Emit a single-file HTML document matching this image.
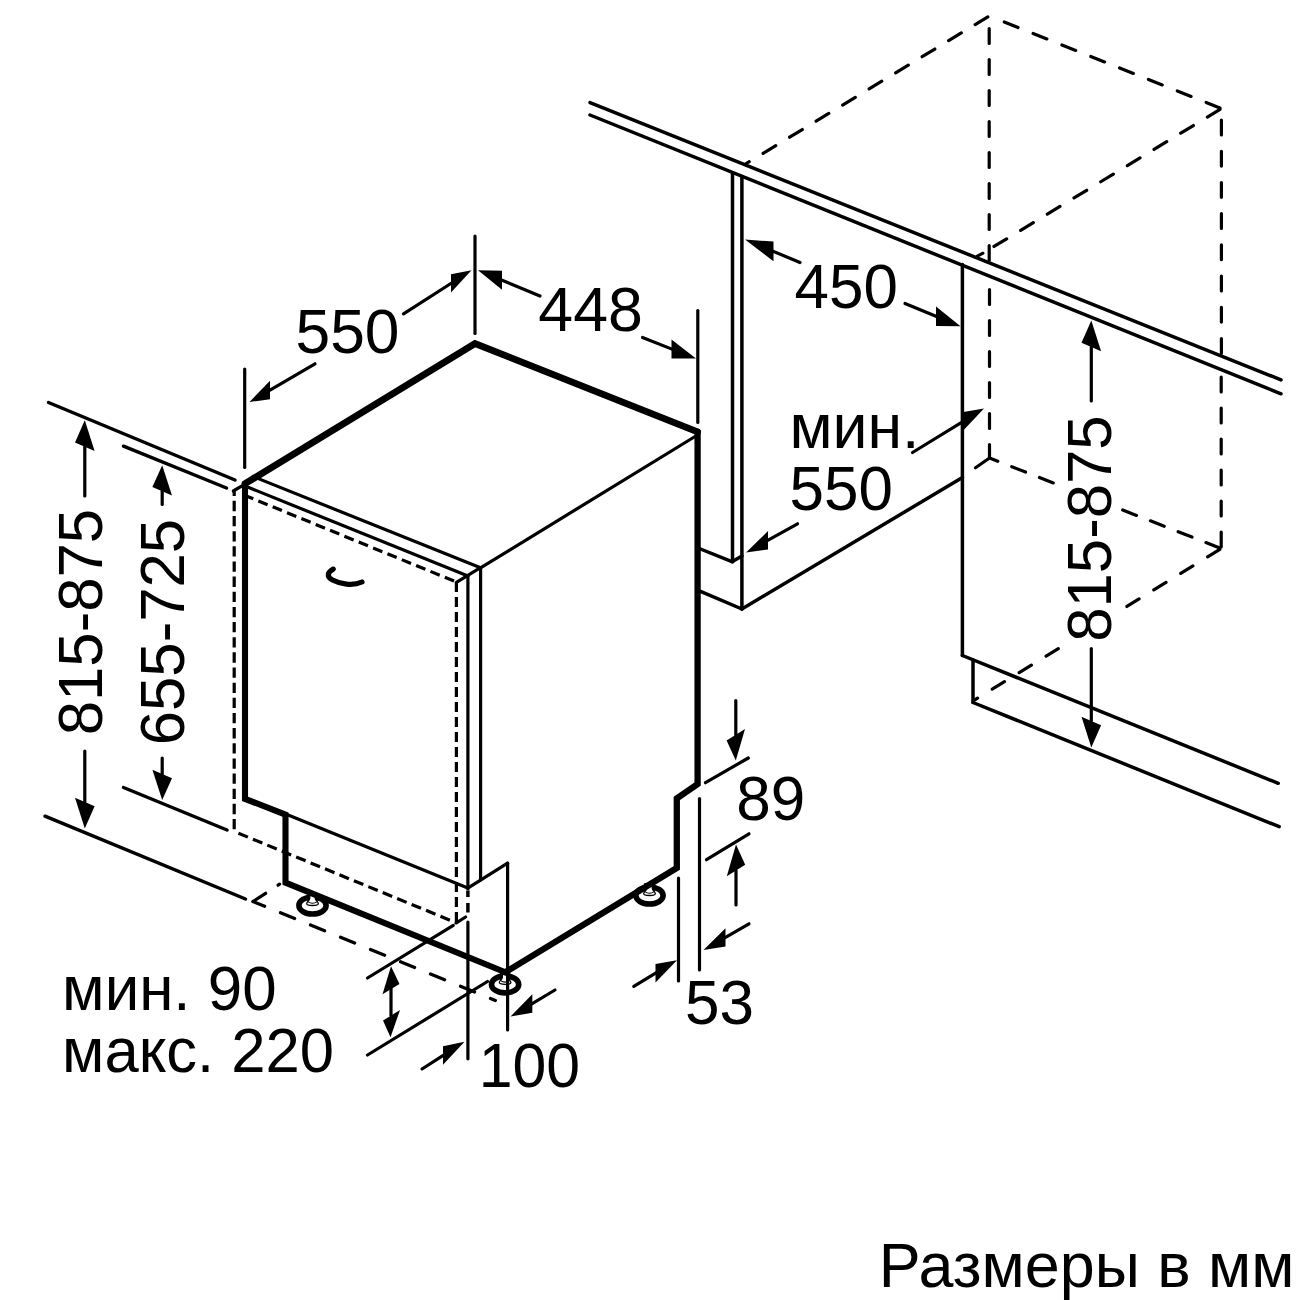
<!DOCTYPE html>
<html lang="ru">
<head>
<meta charset="utf-8">
<title>Размеры в мм</title>
<style>
html,body{margin:0;padding:0;background:#fff;}
body{width:1300px;height:1300px;overflow:hidden;}
svg{display:block;}
svg line, svg path, svg ellipse{stroke:#000;}
svg text{font-family:"Liberation Sans",sans-serif;fill:#000;}
</style>
</head>
<body>
<svg width="1300" height="1300" viewBox="0 0 1300 1300">
<rect x="0" y="0" width="1300" height="1300" fill="#fff" stroke="none"/>
<line x1="590" y1="102.6" x2="1281" y2="379.9" stroke-width="3.5" stroke-linecap="round"/>
<line x1="590" y1="115" x2="1281" y2="393.8" stroke-width="3.5" stroke-linecap="round"/>
<line x1="732.5" y1="173" x2="732.5" y2="561.8" stroke-width="3.5" stroke-linecap="round"/>
<line x1="741.9" y1="176.5" x2="741.9" y2="609" stroke-width="3.5" stroke-linecap="round"/>
<line x1="732.5" y1="561.8" x2="700.5" y2="549" stroke-width="3.5" stroke-linecap="round"/>
<line x1="732.5" y1="561.5" x2="741.9" y2="556" stroke-width="3.5" stroke-linecap="round"/>
<line x1="741.9" y1="609" x2="700.5" y2="591.3" stroke-width="3.5" stroke-linecap="round"/>
<line x1="741.9" y1="609" x2="962.4" y2="477.5" stroke-width="3.5" stroke-linecap="round"/>
<line x1="962.4" y1="264.5" x2="962.4" y2="655.5" stroke-width="3.5" stroke-linecap="round"/>
<line x1="962.4" y1="655.5" x2="1278.2" y2="783.3" stroke-width="3.5" stroke-linecap="round"/>
<line x1="973" y1="660" x2="973" y2="702.5" stroke-width="3.5" stroke-linecap="round"/>
<line x1="973" y1="702.5" x2="1279.2" y2="826.7" stroke-width="3.5" stroke-linecap="round"/>
<line x1="745.5" y1="164" x2="989.2" y2="16" stroke-width="3.2" stroke-dasharray="14.8 16.21" stroke-dashoffset="10.4" stroke-linecap="round"/>
<line x1="989.2" y1="16" x2="1221.4" y2="108.5" stroke-width="3.2" stroke-dasharray="14.8 16.25" stroke-dashoffset="14.85" stroke-linecap="round"/>
<line x1="1221.4" y1="108.5" x2="989.2" y2="249.4" stroke-width="3.2" stroke-dasharray="14.8 16.4" stroke-dashoffset="29.6" stroke-linecap="round"/>
<line x1="977.3" y1="256.2" x2="983" y2="253.2" stroke-width="3" stroke-linecap="round"/>
<line x1="989.2" y1="16" x2="989.2" y2="262" stroke-width="3.2" stroke-dasharray="14.8 16.2" stroke-dashoffset="18.4" stroke-linecap="round"/>
<line x1="989.5" y1="458" x2="989.5" y2="277" stroke-width="3.2" stroke-dasharray="14.8 16.2" stroke-dashoffset="1.4" stroke-linecap="round"/>
<line x1="1221.4" y1="108.5" x2="1221.4" y2="356" stroke-width="3.2" stroke-dasharray="14.8 16.4" stroke-dashoffset="19.6" stroke-linecap="round"/>
<line x1="1221.2" y1="548.5" x2="1221.2" y2="370" stroke-width="3.2" stroke-dasharray="14.8 16.2" stroke-dashoffset="29.4" stroke-linecap="round"/>
<line x1="989.5" y1="458" x2="1221.2" y2="548.5" stroke-width="3.2" stroke-dasharray="14.8 14.98" stroke-dashoffset="5.9" stroke-linecap="round"/>
<line x1="989.5" y1="458" x2="975.5" y2="467.8" stroke-width="3.2" stroke-linecap="round"/>
<line x1="1221.2" y1="548.5" x2="973.3" y2="700.8" stroke-width="3.2" stroke-dasharray="14.3 17.3" stroke-dashoffset="30" stroke-linecap="round"/>
<ellipse cx="312.5" cy="905.5" rx="13.6" ry="8.5" fill="#fff" stroke-width="5.6"/>
<rect x="307.3" y="893" width="10.4" height="8.5" fill="#000" stroke="none"/>
<path d="M309.9 895 L309.7 898.5 C309.5 901 306.7 901.5 306.7 903.7 C306.7 906.1 318.3 906.1 318.3 903.7 C318.3 901.5 315.5 901 315.3 898.5 L315.1 895 Z" fill="#fff" stroke-width="1.3"/>
<path d="M308.3 901.9 C310.5 903.7 314.5 903.7 316.7 901.9" fill="none" stroke-width="1.1"/>
<ellipse cx="505.1" cy="984.4" rx="13.6" ry="8.5" fill="#fff" stroke-width="5.6"/>
<rect x="499.9" y="971.9" width="10.4" height="8.5" fill="#000" stroke="none"/>
<path d="M502.5 973.9 L502.3 977.4 C502.1 979.9 499.3 980.4 499.3 982.6 C499.3 985 510.9 985 510.9 982.6 C510.9 980.4 508.1 979.9 507.9 977.4 L507.7 973.9 Z" fill="#fff" stroke-width="1.3"/>
<path d="M500.9 980.8 C503.1 982.6 507.1 982.6 509.3 980.8" fill="none" stroke-width="1.1"/>
<ellipse cx="649.5" cy="895.5" rx="13.6" ry="8.5" fill="#fff" stroke-width="5.6"/>
<rect x="644.3" y="883" width="10.4" height="8.5" fill="#000" stroke="none"/>
<path d="M646.9 885 L646.7 888.5 C646.5 891 643.7 891.5 643.7 893.7 C643.7 896.1 655.3 896.1 655.3 893.7 C655.3 891.5 652.5 891 652.3 888.5 L652.1 885 Z" fill="#fff" stroke-width="1.3"/>
<path d="M645.3 891.9 C647.5 893.7 651.5 893.7 653.7 891.9" fill="none" stroke-width="1.1"/>
<path d="M245 483.7 L475 343.5 L697.6 431.8" fill="none" stroke-width="6.8" stroke-linejoin="miter" stroke-linecap="round"/>
<path d="M697.6 431.8 L697.6 784 L676.8 798.5 L676.8 868 L505.3 972.3" fill="none" stroke-width="6.3" stroke-linejoin="miter" stroke-linecap="round"/>
<path d="M505.3 972.3 L285.5 882.6 L285.5 814.7 L245 798.8 L245 483.7" fill="none" stroke-width="6.1" stroke-linejoin="miter" stroke-linecap="round"/>
<line x1="253" y1="476.5" x2="480.5" y2="567.7" stroke-width="3.2" stroke-linecap="round"/>
<line x1="247" y1="486.8" x2="468" y2="576" stroke-width="3.2" stroke-linecap="round"/>
<line x1="247.5" y1="496.5" x2="456.4" y2="582" stroke-width="3.2" stroke-dasharray="10 5.5" stroke-dashoffset="3.8"/>
<line x1="480.5" y1="567.7" x2="456.4" y2="582.3" stroke-width="3.2" stroke-linecap="round"/>
<line x1="480.5" y1="567.9" x2="697.5" y2="435" stroke-width="3.2" stroke-linecap="round"/>
<line x1="480.6" y1="567.5" x2="480.6" y2="880" stroke-width="3.2" stroke-linecap="round"/>
<line x1="467.9" y1="575.5" x2="467.9" y2="889" stroke-width="3.2" stroke-linecap="round"/>
<line x1="467.9" y1="890.5" x2="467.9" y2="897" stroke-width="3.5"/>
<line x1="467.9" y1="903" x2="467.9" y2="912.5" stroke-width="3.5"/>
<line x1="467.9" y1="922" x2="467.9" y2="1058.8" stroke-width="3.2" stroke-linecap="round"/>
<line x1="456.4" y1="582" x2="456.4" y2="922.7" stroke-width="3.2" stroke-dasharray="10 5"/>
<line x1="234.2" y1="490.8" x2="234.2" y2="831.5" stroke-width="3.2" stroke-dasharray="10.3 4.85" stroke-dashoffset="5.1"/>
<line x1="233.3" y1="491" x2="242" y2="485.9" stroke-width="3.2" stroke-linecap="round"/>
<line x1="234.2" y1="831.5" x2="456.3" y2="922.8" stroke-width="3.2" stroke-dasharray="10.2 5.4" stroke-dashoffset="11"/>
<line x1="456.3" y1="922.8" x2="465.6" y2="917" stroke-width="3.2" stroke-linecap="round"/>
<line x1="286.3" y1="814.2" x2="467.8" y2="888" stroke-width="3.2" stroke-linecap="round"/>
<line x1="467.8" y1="888.2" x2="507.6" y2="863.2" stroke-width="3.2" stroke-linecap="round"/>
<line x1="507.6" y1="863.2" x2="507.6" y2="1030" stroke-width="3.2" stroke-linecap="round"/>
<path d="M333.2 569.1 C327.3 572.3 326.3 576.6 332.5 580 C340 584 352.5 586.3 362 582" fill="none" stroke-width="5.2" stroke-linecap="round"/>
<line x1="48.5" y1="402.5" x2="235" y2="480" stroke-width="3.5" stroke-linecap="round"/>
<line x1="123.5" y1="446.2" x2="226.5" y2="488" stroke-width="3.5" stroke-linecap="round"/>
<line x1="45" y1="816.2" x2="245.5" y2="899" stroke-width="3.5" stroke-linecap="round"/>
<line x1="253" y1="901.5" x2="495.4" y2="1000.5" stroke-width="3.2" stroke-dasharray="15.3 17.1" stroke-dashoffset="2.7" stroke-linecap="round"/>
<line x1="123.5" y1="787.5" x2="227" y2="830" stroke-width="3.5" stroke-linecap="round"/>
<line x1="265.6" y1="893.3" x2="253" y2="901.5" stroke-width="3.2" stroke-linecap="round"/>
<line x1="278" y1="885.2" x2="279.6" y2="884.2" stroke-width="3.2" stroke-linecap="round"/>
<line x1="84.8" y1="496" x2="84.8" y2="446.7" stroke-width="3.2" stroke-linecap="round"/>
<polygon points="84.8,420.2 75,442.39 94.6,451.01" fill="#000" stroke="none"/>
<line x1="84.8" y1="751" x2="84.8" y2="802" stroke-width="3.2" stroke-linecap="round"/>
<polygon points="84.8,828.5 75,797.69 94.6,806.31" fill="#000" stroke="none"/>
<line x1="162.2" y1="504.5" x2="162.2" y2="491.2" stroke-width="3.2" stroke-linecap="round"/>
<polygon points="162.2,465.2 152.4,486.89 172,495.51" fill="#000" stroke="none"/>
<line x1="162.2" y1="758" x2="162.2" y2="774" stroke-width="3.2" stroke-linecap="round"/>
<polygon points="162.2,800 152.4,769.69 172,778.31" fill="#000" stroke="none"/>
<text x="102.3" y="735.3" font-size="63.5" text-anchor="start" transform="rotate(-90 102.3 735.3)" textLength="226.5" lengthAdjust="spacingAndGlyphs">815-875</text>
<text x="183.8" y="745.3" font-size="63.5" text-anchor="start" transform="rotate(-90 183.8 745.3)" textLength="226.5" lengthAdjust="spacingAndGlyphs">655-725</text>
<line x1="475" y1="236" x2="475" y2="333.5" stroke-width="3.2" stroke-linecap="round"/>
<line x1="244.7" y1="369" x2="244.7" y2="467.5" stroke-width="3.2" stroke-linecap="round"/>
<line x1="697.8" y1="310.5" x2="697.8" y2="422.5" stroke-width="3.2" stroke-linecap="round"/>
<line x1="403.5" y1="313.8" x2="454" y2="281.49" stroke-width="3.2" stroke-linecap="round"/>
<polygon points="471.5,270.3 451,274.21 451,292.61" fill="#000" stroke="none"/>
<line x1="315" y1="363.8" x2="267" y2="391.79" stroke-width="3.2" stroke-linecap="round"/>
<polygon points="249.5,402 270,380.84 270,399.24" fill="#000" stroke="none"/>
<line x1="540" y1="296" x2="499" y2="279" stroke-width="3.2" stroke-linecap="round"/>
<polygon points="478,270.3 502,270.85 502,289.65" fill="#000" stroke="none"/>
<line x1="642.5" y1="337.5" x2="674.5" y2="350.12" stroke-width="3.2" stroke-linecap="round"/>
<polygon points="696,358.6 671.5,339.44 671.5,358.44" fill="#000" stroke="none"/>
<text x="295.5" y="353" font-size="63.5" text-anchor="start" textLength="104" lengthAdjust="spacingAndGlyphs">550</text>
<text x="538.3" y="331" font-size="63.5" text-anchor="start" textLength="104.5" lengthAdjust="spacingAndGlyphs">448</text>
<line x1="800" y1="262.5" x2="770.5" y2="250.16" stroke-width="3.2" stroke-linecap="round"/>
<polygon points="745,239.5 773.5,241.62 773.5,261.22" fill="#000" stroke="none"/>
<line x1="905" y1="303.5" x2="939" y2="317.47" stroke-width="3.2" stroke-linecap="round"/>
<polygon points="960.5,326.3 936,306.54 936,325.94" fill="#000" stroke="none"/>
<text x="794.5" y="307.5" font-size="63.5" text-anchor="start" textLength="103.4" lengthAdjust="spacingAndGlyphs">450</text>
<line x1="912.5" y1="452.5" x2="966.5" y2="419.27" stroke-width="3.2" stroke-linecap="round"/>
<polygon points="984,408.5 963.5,411.92 963.5,430.32" fill="#000" stroke="none"/>
<line x1="797.5" y1="523.8" x2="765" y2="541.91" stroke-width="3.2" stroke-linecap="round"/>
<polygon points="746,552.5 768,531.04 768,549.44" fill="#000" stroke="none"/>
<text x="789.5" y="447.5" font-size="63.5" text-anchor="start" textLength="130" lengthAdjust="spacingAndGlyphs">мин.</text>
<text x="789.5" y="510" font-size="63.5" text-anchor="start" textLength="103.4" lengthAdjust="spacingAndGlyphs">550</text>
<rect x="1059" y="409" width="62" height="238" fill="#fff" stroke="none"/>
<line x1="1091.3" y1="401" x2="1091.3" y2="347" stroke-width="3.2" stroke-linecap="round"/>
<polygon points="1091.3,320.5 1081.5,342.69 1101.1,351.31" fill="#000" stroke="none"/>
<line x1="1091.3" y1="648.5" x2="1091.3" y2="721" stroke-width="3.2" stroke-linecap="round"/>
<polygon points="1091.3,747.5 1081.5,716.69 1101.1,725.31" fill="#000" stroke="none"/>
<text x="1110.8" y="641.8" font-size="63.5" text-anchor="start" transform="rotate(-90 1110.8 641.8)" textLength="226.5" lengthAdjust="spacingAndGlyphs">815-875</text>
<line x1="699.5" y1="798.5" x2="699.5" y2="970" stroke-width="3.2" stroke-linecap="round"/>
<line x1="678.5" y1="878" x2="678.5" y2="981" stroke-width="3.2" stroke-linecap="round"/>
<line x1="705.5" y1="782.7" x2="748.3" y2="758" stroke-width="3.2" stroke-linecap="round"/>
<line x1="706.5" y1="859.7" x2="749" y2="833.8" stroke-width="3.2" stroke-linecap="round"/>
<line x1="735.8" y1="700.5" x2="735.8" y2="734.8" stroke-width="3.2" stroke-linecap="round"/>
<polygon points="735.8,760.4 726.6,740.5 745,729.1" fill="#000" stroke="none"/>
<line x1="736" y1="905" x2="736" y2="870.5" stroke-width="3.2" stroke-linecap="round"/>
<polygon points="736,844.5 726.8,876.2 745.2,864.8" fill="#000" stroke="none"/>
<line x1="749" y1="923.8" x2="722.5" y2="939.06" stroke-width="3.2" stroke-linecap="round"/>
<polygon points="703.5,950 725.5,928.13 725.5,946.53" fill="#000" stroke="none"/>
<line x1="633.8" y1="986.3" x2="658.5" y2="971.43" stroke-width="3.2" stroke-linecap="round"/>
<polygon points="677,960.3 655.5,964.04 655.5,982.44" fill="#000" stroke="none"/>
<text x="736.3" y="820" font-size="63.5" text-anchor="start" textLength="69" lengthAdjust="spacingAndGlyphs">89</text>
<text x="685" y="1023.5" font-size="63.5" text-anchor="start" textLength="69" lengthAdjust="spacingAndGlyphs">53</text>
<line x1="453.3" y1="925.4" x2="367.5" y2="978" stroke-width="3.2" stroke-linecap="round"/>
<line x1="487.5" y1="981.5" x2="367.5" y2="1055" stroke-width="3.2" stroke-linecap="round"/>
<line x1="391" y1="988" x2="391" y2="1016" stroke-width="3.2"/>
<polygon points="391,966.3 382.5,994.3 399.5,983.9" fill="#000" stroke="none"/>
<polygon points="390.5,1037.3 383,1020.5 400,1010.1" fill="#000" stroke="none"/>
<line x1="422" y1="1069" x2="446" y2="1053.58" stroke-width="3.2" stroke-linecap="round"/>
<polygon points="464.5,1041.7 443,1046.31 443,1064.71" fill="#000" stroke="none"/>
<line x1="555" y1="990" x2="529.3" y2="1005.36" stroke-width="3.2" stroke-linecap="round"/>
<polygon points="510.5,1016.6 532.3,994.37 532.3,1012.77" fill="#000" stroke="none"/>
<text x="478.7" y="1087" font-size="63.5" text-anchor="start" textLength="101.4" lengthAdjust="spacingAndGlyphs">100</text>
<text x="62.1" y="1010" font-size="63.5" text-anchor="start" textLength="214.5" lengthAdjust="spacingAndGlyphs">мин. 90</text>
<text x="62.1" y="1072" font-size="63.5" text-anchor="start" textLength="272" lengthAdjust="spacingAndGlyphs">макс. 220</text>
<text x="878.8" y="1287" font-size="63.5" text-anchor="start" textLength="415.6" lengthAdjust="spacingAndGlyphs">Размеры в мм</text>
</svg>
</body>
</html>
